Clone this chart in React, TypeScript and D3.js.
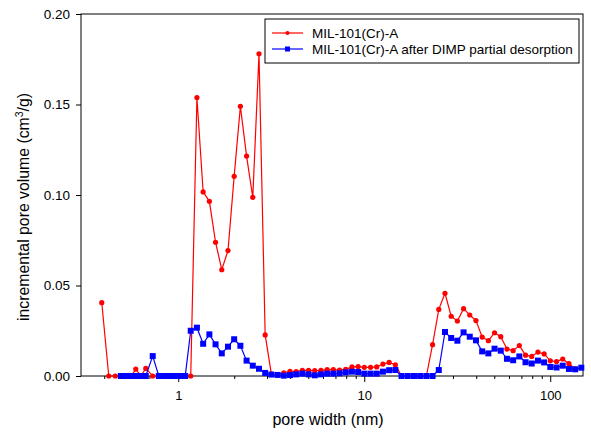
import React, { useEffect, useRef } from "react";
import * as d3 from "d3";

const poreWidthA = [
  0.388, 0.423, 0.458, 0.491, 0.525, 0.559, 0.591, 0.629, 0.669, 0.729, 0.786, 0.841, 0.9, 0.958, 1.025, 1.09,
  1.167, 1.26, 1.361, 1.47, 1.587, 1.714, 1.851, 1.998, 2.158, 2.33, 2.516, 2.717, 2.933, 3.167, 3.42, 3.692,
  3.987, 4.305, 4.648, 5.018, 5.419, 5.851, 6.317, 6.821, 7.365, 7.952, 8.587, 9.272, 10.01, 10.81, 11.67, 12.6,
  13.61, 14.7, 15.87, 17.14, 18.51, 19.98, 21.58, 23.3, 25.16, 27.17, 29.33, 31.67, 34.2, 36.92, 39.87, 43.05,
  46.48, 50.18, 54.19, 58.51, 63.17, 68.21, 73.65, 79.52, 85.87, 92.72, 100.1, 108.1, 116.7, 126.0, 136.1,
];
const volumeA = [
  0.0405, 0, 0, 0, 0, 0, 0.0038, 0, 0.0042, 0, 0, 0, 0, 0, 0, 0,
  0, 0.1538, 0.1017, 0.0965, 0.0739, 0.0587, 0.0693, 0.1103, 0.149, 0.1215, 0.0987, 0.178, 0.0227, 0.001, 0.0008, 0.0017,
  0.0026, 0.0025, 0.0031, 0.0031, 0.003, 0.0031, 0.0035, 0.0035, 0.0033, 0.0037, 0.005, 0.0052, 0.0048, 0.0048, 0.005, 0.0066,
  0.0075, 0.0062, 0, 0, 0, 0, 0, 0.0173, 0.0368, 0.0457, 0.033, 0.0304, 0.0372, 0.0337, 0.0306, 0.0215,
  0.0195, 0.0239, 0.0217, 0.0149, 0.014, 0.0168, 0.0115, 0.0108, 0.0132, 0.0122, 0.0084, 0.008, 0.0094, 0.0068, 0.004,
];

const poreWidthB = [
  0.491, 0.525, 0.559, 0.591, 0.629, 0.669, 0.729, 0.786, 0.841, 0.9, 0.958, 1.025, 1.09,
  1.167, 1.26, 1.361, 1.47, 1.587, 1.714, 1.851, 1.998, 2.158, 2.33, 2.516, 2.717, 2.933, 3.167, 3.42, 3.692,
  3.987, 4.305, 4.648, 5.018, 5.419, 5.851, 6.317, 6.821, 7.365, 7.952, 8.587, 9.272, 10.01, 10.81, 11.67, 12.6,
  13.61, 14.7, 15.87, 17.14, 18.51, 19.98, 21.58, 23.3, 25.16, 27.17, 29.33, 31.67, 34.2, 36.92, 39.87, 43.05,
  46.48, 50.18, 54.19, 58.51, 63.17, 68.21, 73.65, 79.52, 85.87, 92.72, 100.1, 108.1, 116.7, 126.0, 136.1, 146.9,
];
const volumeB = [
  0, 0, 0, 0, 0, 0, 0.011, 0, 0, 0, 0, 0, 0,
  0.025, 0.0267, 0.0178, 0.023, 0.0175, 0.0125, 0.0162, 0.0203, 0.0167, 0.0085, 0.0057, 0.004, 0.0017, 0.0008, 0.0006, 0.0002,
  0.0005, 0.0009, 0.0013, 0.0009, 0.0004, 0.0009, 0.0013, 0.0013, 0.0015, 0.002, 0.0024, 0.0022, 0.0013, 0.0013, 0.0013, 0.0024,
  0.0032, 0.0033, 0, 0, 0, 0, 0, 0, 0.0033, 0.0243, 0.021, 0.0195, 0.0241, 0.0217, 0.0197, 0.0136,
  0.0125, 0.0151, 0.014, 0.0095, 0.0087, 0.0108, 0.0076, 0.0069, 0.0085, 0.0075, 0.005, 0.0047, 0.0057, 0.0039, 0.0037, 0.0046,
];

const seriesNames = ["MIL-101(Cr)-A", "MIL-101(Cr)-A after DIMP partial desorption"];
const xDomain = [0.3, 150];
const yDomain = [0, 0.2];
const yTicks = [0, 0.05, 0.1, 0.15, 0.2];
const xMajorTicks = [1, 10, 100];
const xMinorTicks = [0.4, 0.5, 0.6, 0.7, 0.8, 0.9, 2, 3, 4, 5, 6, 7, 8, 9, 20, 30, 40, 50, 60, 70, 80, 90];

const W = 591;
const H = 433;
const FONT = "Arial, 'Liberation Sans', sans-serif";

export default function App() {
  const ref = useRef<SVGSVGElement>(null);
  useEffect(() => {
    const svg = d3.select(ref.current);
    svg.selectAll("*").remove();
    const x = d3.scaleLog().domain(xDomain).range([81, 583]);
    const y = d3.scaleLinear().domain(yDomain).range([376, 14]);

    // frame
    svg.append("rect").attr("x", 81).attr("y", 14).attr("width", 502).attr("height", 362)
      .attr("fill", "none").attr("stroke", "#000").attr("stroke-width", 1);

    // y axis
    const yAxis = svg.append("g").attr("transform", "translate(81,0)")
      .call(d3.axisLeft(y).tickValues(yTicks).tickFormat(d3.format(".2f")).tickSize(5).tickPadding(6));
    yAxis.select(".domain").remove();
    yAxis.selectAll("text").attr("font-size", 13.5).attr("font-family", FONT).attr("fill", "#000");

    // x axis major
    const xAxis = svg.append("g").attr("transform", "translate(0,376)")
      .call(d3.axisBottom(x).tickValues(xMajorTicks).tickFormat(d3.format("d")).tickSize(6).tickPadding(9));
    xAxis.select(".domain").remove();
    xAxis.selectAll("text").attr("font-size", 13).attr("font-family", FONT).attr("fill", "#000");
    const xMinor = svg.append("g").attr("transform", "translate(0,376)")
      .call(d3.axisBottom(x).tickValues(xMinorTicks).tickFormat(() => "").tickSize(3));
    xMinor.select(".domain").remove();

    const line = d3.line<[number, number]>().x((d) => x(d[0])).y((d) => y(d[1]));
    const dataA: [number, number][] = poreWidthA.map((w, i) => [w, volumeA[i]]);
    const dataB: [number, number][] = poreWidthB.map((w, i) => [w, volumeB[i]]);

    svg.append("path").attr("d", line(dataA)).attr("fill", "none").attr("stroke", "#ff0000").attr("stroke-width", 1.2);
    svg.append("g").selectAll("circle").data(dataA).join("circle")
      .attr("cx", (d) => x(d[0])).attr("cy", (d) => y(d[1])).attr("r", 2.6).attr("fill", "#ff0000");

    svg.append("path").attr("d", line(dataB)).attr("fill", "none").attr("stroke", "#0000ff").attr("stroke-width", 1.2);
    svg.append("g").selectAll("rect").data(dataB).join("rect")
      .attr("x", (d) => x(d[0]) - 3).attr("y", (d) => y(d[1]) - 3).attr("width", 6).attr("height", 6).attr("fill", "#0000ff");

    // titles
    svg.append("text").attr("x", 328).attr("y", 425).attr("text-anchor", "middle")
      .attr("font-size", 16).attr("font-family", FONT).text("pore width (nm)");
    const yt = svg.append("text").attr("transform", "translate(29,207) rotate(-90)").attr("text-anchor", "middle")
      .attr("font-size", 15.8).attr("font-family", FONT);
    yt.append("tspan").text("incremental pore volume (cm");
    yt.append("tspan").attr("font-size", 10.5).attr("dy", -6).text("3");
    yt.append("tspan").attr("dy", 6).text("/g)");

    // legend
    const lg = svg.append("g");
    lg.append("rect").attr("x", 265).attr("y", 19).attr("width", 314).attr("height", 44)
      .attr("fill", "#fff").attr("stroke", "#000").attr("stroke-width", 1);
    const rows = [33, 49];
    const colors = ["#ff0000", "#0000ff"];
    rows.forEach((ry, i) => {
      lg.append("line").attr("x1", 272).attr("x2", 303).attr("y1", ry).attr("y2", ry)
        .attr("stroke", colors[i]).attr("stroke-width", 1.2);
      if (i === 0) lg.append("circle").attr("cx", 287.5).attr("cy", ry).attr("r", 2).attr("fill", colors[i]);
      else lg.append("rect").attr("x", 285).attr("y", ry - 2.5).attr("width", 5).attr("height", 5).attr("fill", colors[i]);
      lg.append("text").attr("x", 312).attr("y", ry + 4.5).attr("font-size", 13.5).attr("font-family", FONT)
        .text(seriesNames[i]);
    });
  }, []);
  return (
    <svg ref={ref} width={W} height={H} style={{ position: "absolute", left: 0, top: 0, background: "#fff" }} />
  );
}
